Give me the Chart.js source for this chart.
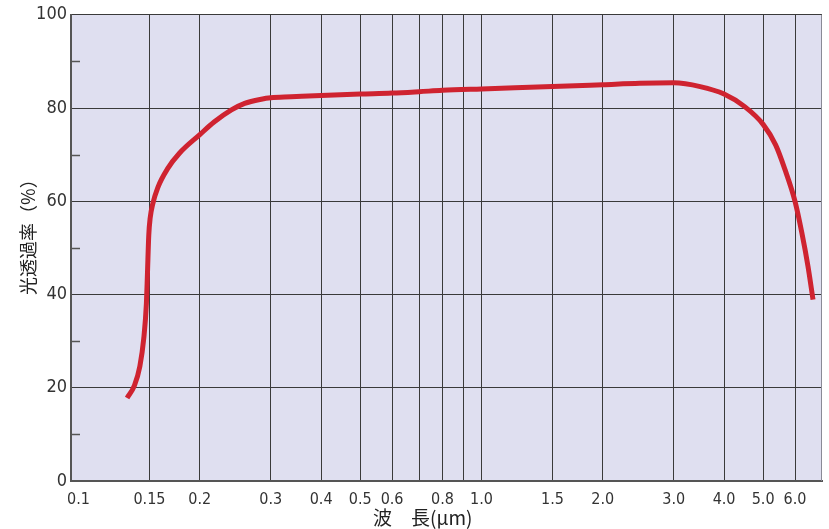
<!DOCTYPE html>
<html>
<head>
<meta charset="utf-8">
<script src="https://cdn.jsdelivr.net/npm/chart.js@4/dist/chart.umd.min.js"></script>
<style>
  html, body { margin: 0; padding: 0; background: #ffffff; }
  #wrap { width: 829px; height: 529px; position: relative; }
</style>
</head>
<body>
<div id="wrap"><canvas id="c" width="829" height="529"></canvas></div>
<script>
// ---- data ----
const wavelengths = [0.132, 0.1377, 0.142, 0.1452, 0.1474, 0.1483, 0.1494, 0.1506, 0.1528, 0.1574,
  0.1664, 0.178, 0.2, 0.217, 0.2396, 0.2584, 0.2842, 0.3, 0.337, 0.4, 0.5, 0.6, 0.7, 0.8, 1.0,
  1.5, 2.0, 2.47, 3.0, 3.49, 4.0, 4.5, 5.0, 5.37, 5.66, 6.0, 6.24, 6.46, 6.65];
const transmittance = [17.8, 20.5, 24.6, 30.6, 38.1, 44.6, 52.7, 56.4, 59.4, 63.0,
  67.0, 70.3, 74.3, 77.0, 79.6, 81.0, 81.9, 82.2, 82.4, 82.7, 83.0, 83.2, 83.5, 83.8, 84.1,
  84.6, 85.0, 85.3, 85.4, 84.6, 83.0, 80.3, 76.5, 72.1, 66.9, 60.0, 53.2, 46.1, 38.9];
const xTickValues = [0.1, 0.15, 0.2, 0.3, 0.4, 0.5, 0.6, 0.7, 0.8, 0.9, 1.0, 1.5, 2.0, 3.0, 4.0, 5.0, 6.0];
const xTickLabels = ["0.1", "0.15", "0.2", "0.3", "0.4", "0.5", "0.6", "", "0.8", "", "1.0", "1.5", "2.0", "3.0", "4.0", "5.0", "6.0"];
const yMinorTicks = [10, 30, 50, 70, 90];
const xTitle = "波\u3000長(μm)";
const yTitle = "光透過率（%）";

const numFont = "'Liberation Sans Narrow', 'DejaVu Sans Condensed', 'Liberation Sans', sans-serif";
const cjkFont = "'Noto Sans CJK JP', 'Noto Sans', sans-serif";

const plotDecor = {
  id: 'plotDecor',
  beforeDraw(chart) {
    const {ctx, chartArea: a} = chart;
    ctx.save();
    ctx.fillStyle = '#dfdff0';
    ctx.fillRect(a.left, a.top, a.right - a.left, a.bottom - a.top);
    ctx.restore();
  },
  afterDatasetsDraw(chart) {
    const {ctx, chartArea: a, scales} = chart;
    ctx.save();
    ctx.strokeStyle = '#555';
    ctx.lineWidth = 1.5;
    yMinorTicks.forEach(v => {
      const y = Math.round(scales.y.getPixelForValue(v)) + 0.5;
      ctx.beginPath();
      ctx.moveTo(a.left, y);
      ctx.lineTo(a.left + 9, y);
      ctx.stroke();
    });
    ctx.strokeStyle = '#8a8a96';
    ctx.lineWidth = 1;
    ctx.beginPath();
    ctx.moveTo(a.right - 0.5, a.top);
    ctx.lineTo(a.right - 0.5, a.bottom);
    ctx.stroke();
    ctx.restore();
  }
};

new Chart(document.getElementById('c'), {
  type: 'line',
  data: {
    datasets: [{
      data: wavelengths.map((w, i) => ({x: w, y: transmittance[i]})),
      borderColor: '#cf2330',
      borderWidth: 5,
      pointRadius: 0,
      cubicInterpolationMode: 'monotone',
      fill: false
    }]
  },
  options: {
    responsive: false,
    animation: false,
    devicePixelRatio: 1,
    layout: { padding: { top: 14, right: 7, left: 0, bottom: 0 } },
    plugins: { legend: { display: false }, tooltip: { enabled: false } },
    scales: {
      x: {
        type: 'logarithmic',
        min: 0.0958,
        max: 7.0,
        afterBuildTicks(scale) { scale.ticks = xTickValues.map(v => ({value: v})); },
        afterFit(scale) { scale.height = 48; },
        grid: {
          color: ctx => (ctx.tick && ctx.tick.value === 0.1) ? 'rgba(0,0,0,0)' : '#3a3a3a',
          lineWidth: 1,
          drawTicks: false
        },
        border: { color: '#555', width: 2 },
        ticks: {
          autoSkip: false,
          maxRotation: 0,
          padding: 9,
          color: '#333',
          font: { family: numFont, size: 16 },
          callback: (v, i) => xTickLabels[i]
        },
        title: {
          display: true,
          text: xTitle + "\u3000\u3000\u2002",
          color: '#222',
          font: { family: cjkFont, size: 19 },
          padding: { top: 0, bottom: 0 }
        }
      },
      y: {
        min: 0,
        max: 100,
        afterFit(scale) { scale.width = 71; },
        grid: { color: '#3a3a3a', lineWidth: 1, drawTicks: false },
        border: { color: '#555', width: 2 },
        ticks: {
          stepSize: 20,
          padding: 4,
          color: '#333',
          font: { family: numFont, size: 18 }
        },
        title: {
          display: true,
          text: "\u3000\u2002\u2009" + yTitle,
          color: '#222',
          font: { family: cjkFont, size: 18 },
          padding: { top: 17, bottom: 0 }
        }
      }
    }
  },
  plugins: [plotDecor]
});
</script>
</body>
</html>
